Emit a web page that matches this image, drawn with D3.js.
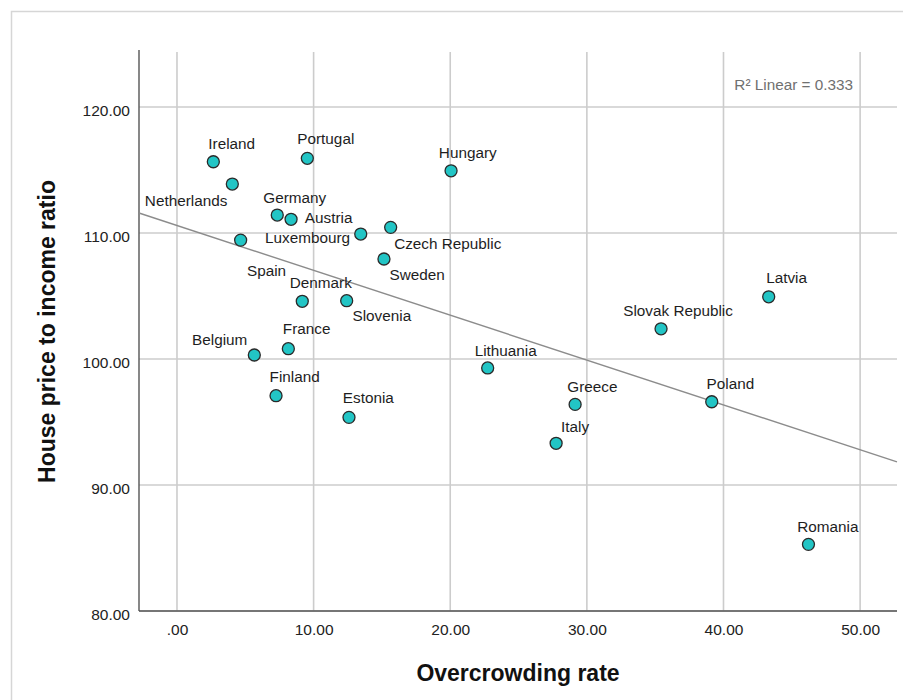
<!DOCTYPE html>
<html>
<head>
<meta charset="utf-8">
<script src="https://cdn.jsdelivr.net/npm/d3@7"></script>
<style>
  html, body { margin: 0; padding: 0; background: #fff; }
  svg { display: block; font-family: "Liberation Sans", Arial, sans-serif; }
</style>
</head>
<body>
<svg id="chart" width="903" height="700"></svg>
<script>
// ---------------- DATA ----------------
const countries = ["Ireland","Netherlands","Portugal","Hungary","Germany","Austria","Luxembourg",
  "Czech Republic","Spain","Sweden","Denmark","Slovenia","France","Belgium","Finland","Estonia",
  "Lithuania","Greece","Italy","Slovak Republic","Latvia","Poland","Romania"];
const overcrowding = [2.66, 4.05, 9.54, 20.06, 7.34, 8.35, 13.45,
  15.64, 4.66, 15.15, 9.17, 12.42, 8.15, 5.66, 7.25, 12.59,
  22.74, 29.14, 27.75, 35.43, 43.31, 39.14, 46.22];
const housePrice = [115.66, 113.89, 115.93, 114.94, 111.43, 111.09, 109.92,
  110.45, 109.44, 107.94, 104.58, 104.63, 100.82, 100.32, 97.09, 95.37,
  99.29, 96.40, 93.31, 102.40, 104.94, 96.61, 85.29];

const xTickValues = [0, 10, 20, 30, 40, 50];
const xTickLabels = [".00", "10.00", "20.00", "30.00", "40.00", "50.00"];
const yTickValues = [80, 90, 100, 110, 120];
const yTickLabels = ["80.00", "90.00", "100.00", "110.00", "120.00"];

const fitIntercept = 110.6;
const fitSlope = -0.356;
const r2Text = "R\u00B2 Linear = 0.333";
const xTitle = "Overcrowding rate";
const yTitle = "House price to income ratio";

// ---------------- LAYOUT (label placement, not data) ----------------
const labelPlacement = {
  "Ireland": [-5, -12.7, "start"],
  "Netherlands": [-5, 21.7, "end"],
  "Portugal": [-10, -14, "start"],
  "Hungary": [-12.2, -12.4, "start"],
  "Germany": [-14, -11.7, "start"],
  "Austria": [13.8, 3.4, "start"],
  "Luxembourg": [-10.7, 8.7, "end"],
  "Czech Republic": [3.5, 21.7, "start"],
  "Spain": [6.3, 36, "start"],
  "Sweden": [5.5, 21, "start"],
  "Denmark": [-12.5, -13, "start"],
  "Slovenia": [5.8, 20.3, "start"],
  "France": [-5.5, -14.7, "start"],
  "Belgium": [-7, -10, "end"],
  "Finland": [-6.5, -13.4, "start"],
  "Estonia": [-6.2, -14, "start"],
  "Lithuania": [-13, -12.3, "start"],
  "Greece": [-7.8, -12.6, "start"],
  "Italy": [5, -11.6, "start"],
  "Slovak Republic": [-37.8, -12.7, "start"],
  "Latvia": [-2.5, -13.4, "start"],
  "Poland": [-5.2, -12.4, "start"],
  "Romania": [-11.2, -12.6, "start"]
};

const plot = { left: 139, right: 897, top: 52, bottom: 611 };

const svg = d3.select("#chart");

// outer frame
svg.append("rect")
  .attr("x", 11.5).attr("y", 11.5)
  .attr("width", 1000).attr("height", 1000)
  .attr("fill", "none").attr("stroke", "#d6d6d6").attr("stroke-width", 1.5);

const x = d3.scaleLinear().domain([-2.78, 52.7]).range([plot.left, plot.right]);
const y = d3.scaleLinear().domain([80, 124.37]).range([plot.bottom, plot.top]);

// gridlines
const grid = svg.append("g");
grid.selectAll("line.vg").data(xTickValues).join("line")
  .attr("x1", d => x(d)).attr("x2", d => x(d))
  .attr("y1", plot.top).attr("y2", plot.bottom)
  .attr("stroke", "#cccccc").attr("stroke-width", 1.6);
grid.selectAll("line.hg").data(yTickValues).join("line")
  .attr("x1", plot.left).attr("x2", plot.right)
  .attr("y1", d => y(d)).attr("y2", d => y(d))
  .attr("stroke", "#cccccc").attr("stroke-width", 1.6);

// axes
const xAxis = d3.axisBottom(x).tickValues(xTickValues)
  .tickFormat((d, i) => xTickLabels[i]).tickSize(0).tickPadding(12.5);
const yAxis = d3.axisLeft(y).tickValues(yTickValues)
  .tickFormat((d, i) => yTickLabels[i]).tickSize(0).tickPadding(9);

const gx = svg.append("g").attr("transform", `translate(0,${plot.bottom})`).call(xAxis);
const gy = svg.append("g").attr("transform", `translate(${plot.left},0)`).call(yAxis);
[gx, gy].forEach(g => {
  g.select(".domain").remove();
  g.selectAll("text").attr("font-size", 15.5).attr("fill", "#222")
    .attr("font-family", "'Liberation Sans', Arial, sans-serif");
});
gy.selectAll("text").attr("dy", "0.52em");

// axis lines
svg.append("line").attr("x1", plot.left).attr("x2", plot.left)
  .attr("y1", plot.top - 2).attr("y2", plot.bottom)
  .attr("stroke", "#555").attr("stroke-width", 1.4);
svg.append("line").attr("x1", plot.left).attr("x2", plot.right)
  .attr("y1", plot.bottom).attr("y2", plot.bottom)
  .attr("stroke", "#555").attr("stroke-width", 1.4);

// fit line
const xd = x.domain();
svg.append("line")
  .attr("x1", x(xd[0])).attr("y1", y(fitIntercept + fitSlope * xd[0]))
  .attr("x2", x(xd[1])).attr("y2", y(fitIntercept + fitSlope * xd[1]))
  .attr("stroke", "#8c8c8c").attr("stroke-width", 1.4);

// R2 label
svg.append("text").attr("x", 853).attr("y", 90)
  .attr("text-anchor", "end").attr("font-size", 15.3).attr("fill", "#707070")
  .text(r2Text);

// points
const data = countries.map((c, i) => ({ name: c, xv: overcrowding[i], yv: housePrice[i] }));
svg.append("g").selectAll("circle").data(data).join("circle")
  .attr("cx", d => x(d.xv)).attr("cy", d => y(d.yv)).attr("r", 6)
  .attr("fill", "#22c5c5").attr("stroke", "#2a2a2a").attr("stroke-width", 1.3);

// labels
svg.append("g").selectAll("text").data(data).join("text")
  .attr("x", d => x(d.xv) + labelPlacement[d.name][0])
  .attr("y", d => y(d.yv) + labelPlacement[d.name][1])
  .attr("text-anchor", d => labelPlacement[d.name][2])
  .attr("font-size", 15.3).attr("fill", "#1e1e1e")
  .text(d => d.name);

// axis titles
svg.append("text").attr("x", (plot.left + plot.right) / 2).attr("y", 681)
  .attr("text-anchor", "middle").attr("font-size", 23).attr("font-weight", "bold")
  .attr("fill", "#111").text(xTitle);
svg.append("text")
  .attr("transform", `translate(55,${(plot.top + plot.bottom) / 2}) rotate(-90)`)
  .attr("text-anchor", "middle").attr("font-size", 23).attr("font-weight", "bold")
  .attr("fill", "#111").text(yTitle);
</script>
</body>
</html>
